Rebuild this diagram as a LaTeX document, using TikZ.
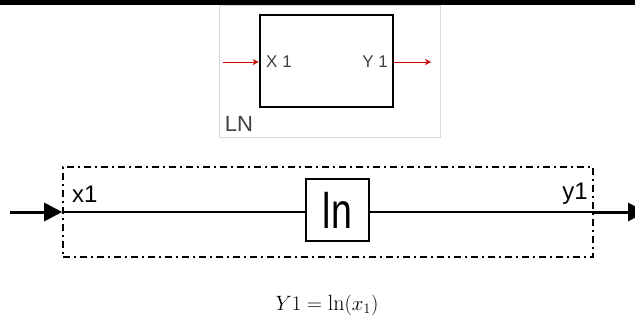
\documentclass[tikz,border=0pt]{standalone}
\usepackage{fontspec}
\newfontfamily\arial{Liberation Sans}
\usepackage{tikz}
\usetikzlibrary{arrows.meta,positioning}
\tikzset{
  px/.style={x=1pt, y=-1pt, >=Stealth},
  lnblk/.style={draw, line width=2.6pt, minimum width=133pt, minimum height=92pt, inner sep=0pt},
  port/.style={font=\arial\fontsize{17}{19}\selectfont, inner sep=0pt, text=black!75},
  redsig/.style={->, red!80!black, line width=1pt, >={Stealth[length=6pt, width=6pt, open, fill=red!40]}},
  frame/.style={draw, line width=1.6pt, dash pattern=on 7pt off 4pt on 2pt off 4pt, minimum width=530pt, minimum height=90pt, inner sep=0pt},
  fbox/.style={draw, line width=2pt, minimum width=63pt, minimum height=62pt, inner sep=0pt, font=\arial\fontsize{50}{52}\selectfont},
  wire/.style={line width=1.6pt},
  bigarr/.style={line width=3pt, -{Triangle[length=18pt, width=18pt]}},
  sgn/.style={font=\arial\fontsize{24}{26}\selectfont, inner sep=0pt}
}

\begin{document}
\begin{tikzpicture}[px]
\useasboundingbox (0,0) rectangle (635,325);
\clip (0,0) rectangle (635,325);
\fill[black] (0,0) rectangle (635,5);
% small block picture
\draw[gray!30] (219,5) rectangle (440,137);
\node[lnblk] (blk) at (326.5,61) {};
\node[port, anchor=west] (xp) at (266,62) {X 1};
\node[port, anchor=east] (yp) at (388,62) {Y 1};
\node[port, font=\arial\fontsize{22}{24}\selectfont] (lnname) at (239,124) {LN};
\coordinate (rin) at (223,62);
\coordinate (rout) at (431,62);
\draw[redsig] (rin) -- (blk.west |- rin);
\draw[redsig] (blk.east |- rout) -- (rout);
% expanded block
\node[frame] (fr) at (328,212) {};
\node[fbox] (lnbox) at (337.5,210) {\scalebox{.75}[1]{ln}};
\node[sgn, anchor=base west] (xl) at (72,202) {x1};
\node[sgn, anchor=base east] (yl) at (588,199) {y1};
\coordinate (in) at (10,212);
\coordinate (out) at (646,212);
\draw[bigarr] (in) -- (fr.west);
\draw[wire] (fr.west) -- (lnbox.west |- fr.west);
\draw[wire] (lnbox.east |- fr.east) -- (fr.east);
\draw[bigarr] (fr.east) -- (out);
\node[font=\fontsize{22}{24}\selectfont] (eq) at (327,305) {$Y1 = \ln(x_1)$};
\end{tikzpicture}
\end{document}
